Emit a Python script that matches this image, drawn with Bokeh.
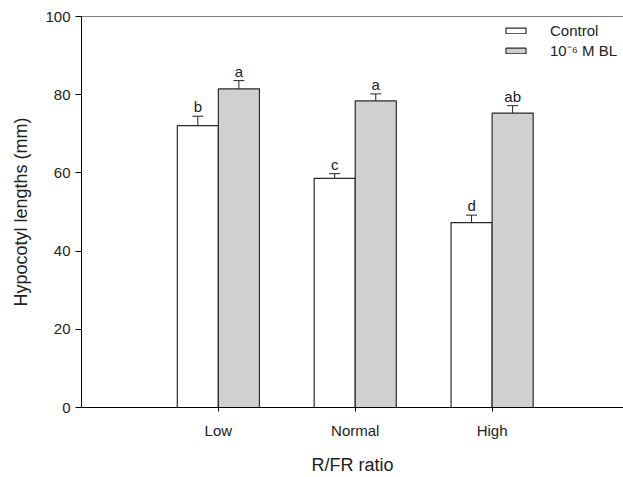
from bokeh.plotting import figure
from bokeh.models import (ColumnDataSource, Range1d, FixedTicker, Whisker, TeeHead,
                          Span, Legend, LegendItem)
from bokeh.transform import dodge
from bokeh.core.properties import value
from bokeh.embed import file_html
from bokeh.resources import INLINE

# ---- data ----
categories = ["Low", "Normal", "High"]
control = [72.1, 58.6, 47.3]
control_err = [2.4, 1.2, 1.9]
bl = [81.5, 78.4, 75.3]
bl_err = [2.1, 1.8, 1.9]
control_letters = ["b", "c", "d"]
bl_letters = ["a", "a", "ab"]
y_ticks = [0, 20, 40, 60, 80, 100]

FONT = "Liberation Sans"
pos = list(range(1, len(categories) + 1))

src = ColumnDataSource(dict(
    x=pos,
    control=control,
    c_up=[m + e for m, e in zip(control, control_err)],
    c_lo=[m - e for m, e in zip(control, control_err)],
    bl=bl,
    b_up=[m + e for m, e in zip(bl, bl_err)],
    b_lo=[m - e for m, e in zip(bl, bl_err)],
    c_let=control_letters,
    b_let=bl_letters,
))

p = figure(width=623, height=477, output_backend="svg", toolbar_location=None,
           x_range=Range1d(0, 3.96), y_range=Range1d(0, 100),
           min_border_left=81, min_border_right=0, min_border_top=16,
           min_border_bottom=67)
p.outline_line_color = None
p.grid.visible = False
p.background_fill_color = "white"

W = 0.3
r_c = p.vbar(x=dodge("x", -W / 2), top="control", bottom=0, width=W, source=src,
             fill_color="white", line_color="#2a2a2a", line_width=1.2)
r_b = p.vbar(x=dodge("x", W / 2), top="bl", bottom=0, width=W, source=src,
             fill_color="#d0d0d0", line_color="#2a2a2a", line_width=1.2)

for base, up, lo in [(dodge("x", -W / 2), "c_up", "c_lo"), (dodge("x", W / 2), "b_up", "b_lo")]:
    w = Whisker(base=base, upper=up, lower=lo, source=src, dimension="height",
                line_color="#222222", line_width=1,
                upper_head=TeeHead(size=11, line_color="#222222", line_width=1),
                lower_head=TeeHead(size=11, line_color="#222222", line_width=1))
    p.add_layout(w)

for xx, yy, tt in [(dodge("x", -W / 2), "c_up", "c_let"), (dodge("x", W / 2), "b_up", "b_let")]:
    p.text(x=xx, y=yy, text=tt, source=src, y_offset=-1, text_align="center",
           text_baseline="bottom", text_font=value(FONT), text_font_size="15px",
           text_color="#222222")

p.add_layout(Span(location=100, dimension="width", line_color="black", line_width=1))

# axes
p.xaxis.ticker = FixedTicker(ticks=pos)
p.xaxis.major_label_overrides = {i: c for i, c in zip(pos, categories)}
p.xaxis.minor_tick_line_color = None
p.xaxis.major_tick_in = 0
p.xaxis.major_tick_out = 4
p.xaxis.major_label_standoff = 10
p.xaxis.axis_label = "R/FR ratio"
p.xaxis.axis_label_standoff = 13

p.yaxis.ticker = FixedTicker(ticks=y_ticks)
p.yaxis.minor_tick_line_color = None
p.yaxis.major_tick_in = 0
p.yaxis.major_tick_out = 6
p.yaxis.major_label_standoff = 5
p.yaxis.axis_label = "Hypocotyl lengths (mm)"
p.yaxis.axis_label_standoff = 11

for ax in (p.xaxis, p.yaxis):
    ax.axis_line_color = "black"
    ax.major_tick_line_color = "black"
    ax.major_label_text_font = FONT
    ax.major_label_text_font_size = "15px"
    ax.major_label_text_color = "#222222"
    ax.axis_label_text_font = FONT
    ax.axis_label_text_font_size = "18px"
    ax.axis_label_text_font_style = "normal"
    ax.axis_label_text_color = "#222222"

legend = Legend(items=[LegendItem(label="Control", renderers=[r_c]),
                       LegendItem(label="10\u207b\u2076 M BL", renderers=[r_b])],
                location=(422, 347), orientation="vertical",
                glyph_width=25, glyph_height=7, label_height=20, spacing=0,
                padding=0, margin=0, label_standoff=22,
                border_line_color=None, background_fill_alpha=0,
                label_text_font=FONT, label_text_font_size="15px",
                label_text_color="#222222")
p.add_layout(legend)

open("out.html", "w").write(file_html(p, INLINE))
